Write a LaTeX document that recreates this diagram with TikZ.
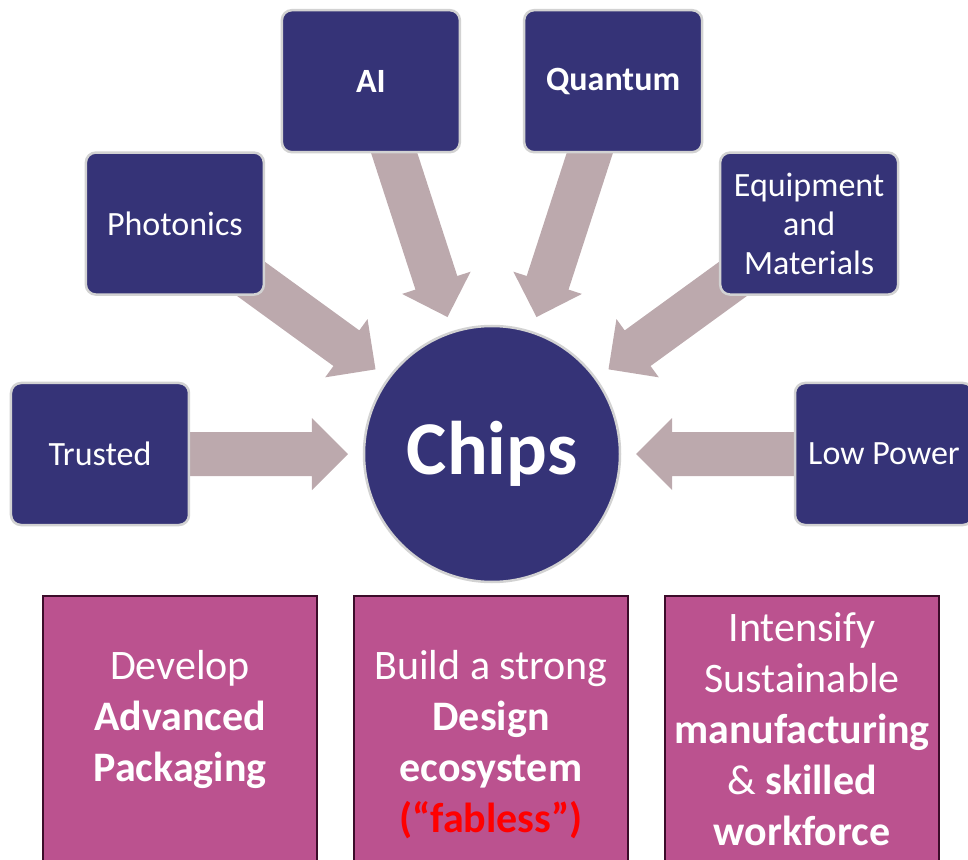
\documentclass[tikz,border=0pt]{standalone}
\usepackage{fontspec}
\setmainfont{Carlito}
\usepackage{tikz}
\usetikzlibrary{calc,backgrounds}
\definecolor{navy}{RGB}{53,51,119}
\definecolor{rim}{RGB}{210,210,210}
\definecolor{feedcol}{RGB}{188,169,173}
\definecolor{plum}{RGB}{187,82,143}
\definecolor{plumrim}{RGB}{60,12,42}

\begin{document}
\begin{tikzpicture}[x=1pt, y=1pt, text=white]
\tikzstyle{topic}=[rectangle, rounded corners=10pt, fill=navy, draw=rim, line width=2.5pt, minimum width=178pt, minimum height=142pt, inner sep=0pt, align=center, font=\fontsize{34}{39}\selectfont]
\tikzstyle{feed}=[fill=feedcol]
\tikzstyle{goal}=[rectangle, fill=plum, draw=plumrim, line width=2pt, minimum width=274pt, minimum height=304pt]
\tikzstyle{goaltext}=[anchor=north, inner sep=0pt, align=center, font=\fontsize{42}{51}\selectfont]
\useasboundingbox (-492,-405) rectangle (476,454);

\node[circle, fill=navy, draw=rim, line width=2.5pt, minimum size=256pt, inner sep=0pt, font=\fontsize{76}{80}\selectfont\bfseries] (chips) at (0,0) {Chips};

\node[topic] (trusted)   at (180:392) {Trusted};
\node[topic] (photonics) at (144:392) {Photonics};
\node[topic] (ai)        at (108:392) {\textbf{AI}};
\node[topic] (quantum)   at (72:392)  {\textbf{Quantum}};
\node[topic] (equip)     at (36:392)  {Equipment\\and\\Materials};
\node[topic] (lowpower)  at (0:392)   {Low Power};

% fat arrows into the chip, behind the boxes
\begin{pgfonlayer}{background}
\foreach \src in {trusted,photonics,ai,quantum,equip,lowpower}
  \fill[feed] ($(chips.center)!144pt!(\src.center)$)
    -- ($(chips.center)!180pt!(\src.center)!36pt!90:(\src.center)$)
    -- ($(chips.center)!180pt!(\src.center)!22pt!90:(\src.center)$)
    -- ($(\src.center)!22pt!-90:(chips.center)$)
    -- ($(\src.center)!22pt!90:(chips.center)$)
    -- ($(chips.center)!180pt!(\src.center)!22pt!-90:(\src.center)$)
    -- ($(chips.center)!180pt!(\src.center)!36pt!-90:(\src.center)$)
    -- cycle;
\end{pgfonlayer}

% goals
\node[goal] (pack)   at (-312,-294) {};
\node[goal] (design) at (-1,-294)   {};
\node[goal] (manuf)  at (310,-294)  {};

\node[goaltext] (packtxt)   at (-312,-196) {Develop\\\textbf{Advanced}\\\textbf{Packaging}};
\node[goaltext] (designtxt) at (-1,-196)   {Build a strong\\\textbf{Design}\\\textbf{ecosystem}\\\textcolor{red}{\textbf{(“fabless”)}}};
\node[goaltext] (manuftxt)  at (310,-158)  {Intensify\\Sustainable\\\textbf{manufacturing}\\\& \textbf{skilled}\\\textbf{workforce}};
\end{tikzpicture}
\end{document}
